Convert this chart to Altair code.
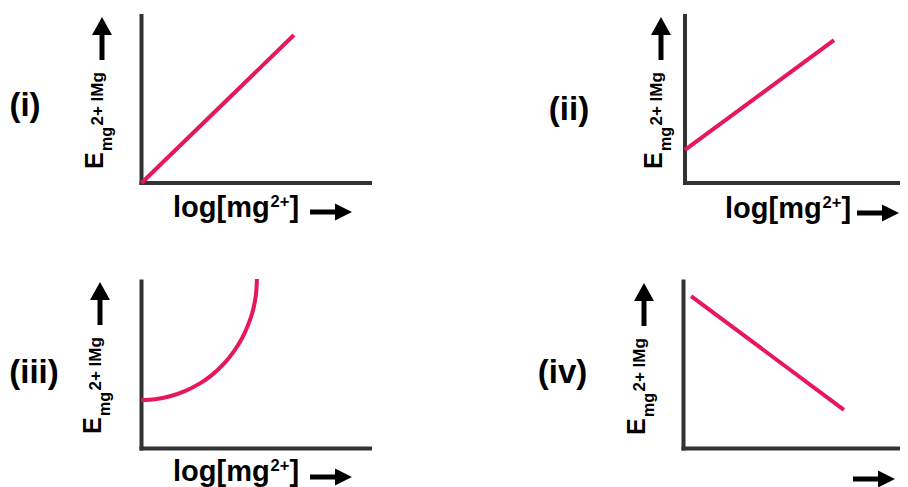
import altair as alt
import pandas as pd

# ---------------- data (axis units 0..10) ----------------
PANEL_LABELS = ["(i)", "(ii)", "(iii)", "(iv)"]
Y_TITLE_MAIN = "E"
Y_TITLE_SUB = "mg"
Y_TITLE_SUP = "2+ IMg"
X_TITLE_MAIN = "log[mg"
X_TITLE_SUP = "2+"
X_TITLE_END = "]"

# (i) straight line through the origin
P1_X = [0.0, 6.67]
P1_Y = [0.0, 8.86]
# (ii) straight line with positive intercept
P2_X = [0.0, 6.93]
P2_Y = [1.98, 8.56]
# (iii) curve rising steeply
P3_X = [0.0, 0.59, 1.25, 1.90, 2.56, 3.09, 3.61, 4.05, 4.40, 4.66, 4.84, 4.97, 5.03, 5.05]
P3_Y = [2.90, 2.95, 3.13, 3.44, 3.90, 4.41, 5.08, 5.83, 6.60, 7.38, 8.08, 8.85, 9.53, 10.15]
# (iv) falling straight line
P4_X = [0.35, 7.41]
P4_Y = [9.13, 2.31]

AXIS_X0 = [0.0, 0.0]
AXIS_X1 = [0.0, 10.0]
AXIS_Y0 = [0.0, 0.0]
AXIS_Y1 = [10.0, 0.0]

PINK = "#E6175C"
AXIS_COLOR = "#333333"
FONT = "Liberation Sans"

ARROW_UP = "M0,-1L0.465,-0.163L0.116,-0.163L0.116,1L-0.116,1L-0.116,-0.163L-0.465,-0.163Z"
ARROW_RIGHT = "M-1,-0.12L0.19,-0.12L0.19,-0.405L1,0L0.19,0.405L0.19,0.12L-1,0.12Z"


def panel(xs, ys, xrange, yrange, interp="linear"):
    xsc = alt.Scale(domain=[0, 10], range=xrange, nice=False, zero=False)
    ysc = alt.Scale(domain=[0, 10], range=yrange, nice=False, zero=False)
    axes_df = pd.DataFrame({"x0": AXIS_X0, "x1": AXIS_X1, "y0": AXIS_Y0, "y1": AXIS_Y1})
    axes = alt.Chart(axes_df).mark_rule(
        color=AXIS_COLOR, strokeWidth=4, strokeCap="square"
    ).encode(
        x=alt.X("x0:Q", scale=xsc, axis=None),
        x2="x1:Q",
        y=alt.Y("y0:Q", scale=ysc, axis=None),
        y2="y1:Q",
    )
    df = pd.DataFrame({"x": xs, "y": ys, "o": list(range(len(xs)))})
    line = alt.Chart(df).mark_line(
        color=PINK, strokeWidth=4, interpolate=interp, clip=False
    ).encode(
        x=alt.X("x:Q", scale=xsc, axis=None),
        y=alt.Y("y:Q", scale=ysc, axis=None),
        order="o:Q",
    )
    return alt.layer(axes, line)


def txt(s, x, y, size, angle=0, align="left"):
    return alt.Chart(pd.DataFrame({"t": [s]})).mark_text(
        font=FONT, fontWeight="bold", fontSize=size, angle=angle,
        align=align, baseline="alphabetic", color="black",
    ).encode(x=alt.value(x), y=alt.value(y), text="t:N")


def arrow(path, x, y, size):
    return alt.Chart(pd.DataFrame({"a": [0]})).mark_point(
        shape=path, filled=True, size=size, color="black", opacity=1, strokeWidth=0
    ).encode(x=alt.value(x), y=alt.value(y))


layers = [
    panel(P1_X, P1_Y, [133.5, 362], [175, 8]),
    panel(P2_X, P2_Y, [677, 892], [175, 8]),
    panel(P3_X, P3_Y, [133.5, 362], [440.5, 273.5], "catmull-rom"),
    panel(P4_X, P4_Y, [675.5, 892], [440.5, 273.5]),
]

# panel labels
label_pos = [(17, 107.6), (561, 111.6), (26, 374.6), (554.5, 374.6)]
for s, (x, y) in zip(PANEL_LABELS, label_pos):
    layers.append(txt(s, x, y, 33, align="center"))

# y titles and up arrows
for dx, dy in [(0, 0), (559, 0), (-2, 265), (542, 266)]:
    layers.append(txt(Y_TITLE_MAIN, 95 + dx, 161 + dy, 25, angle=270))
    layers.append(txt(Y_TITLE_SUB, 103.5 + dx, 143 + dy, 16, angle=270))
    layers.append(txt(Y_TITLE_SUP, 95.3 + dx, 117.5 + dy, 17, angle=270))
    layers.append(arrow(ARROW_UP, 94 + dx, 30.5 + dy, 1849))

# x titles (panel iv has no title)
for dx, dy in [(0, 0), (552, 1), (0, 264)]:
    layers.append(txt(X_TITLE_MAIN, 165 + dx, 209 + dy, 29))
    layers.append(txt(X_TITLE_SUP, 262.5 + dx, 199 + dy, 16.5))
    layers.append(txt(X_TITLE_END, 281.5 + dx, 209 + dy, 29))

# right arrows
for x, y in [(323, 204), (870, 205), (323, 469), (866, 471)]:
    layers.append(arrow(ARROW_RIGHT, x, y, 1764))

chart = alt.layer(*layers).resolve_scale(
    x="independent", y="independent"
).properties(
    width=892, height=479, padding=0,
    autosize=alt.AutoSizeParams(type="none"),
    background="white",
).configure_view(stroke=None)

chart.save("out.html", embed_options={"renderer": "svg", "actions": False})
